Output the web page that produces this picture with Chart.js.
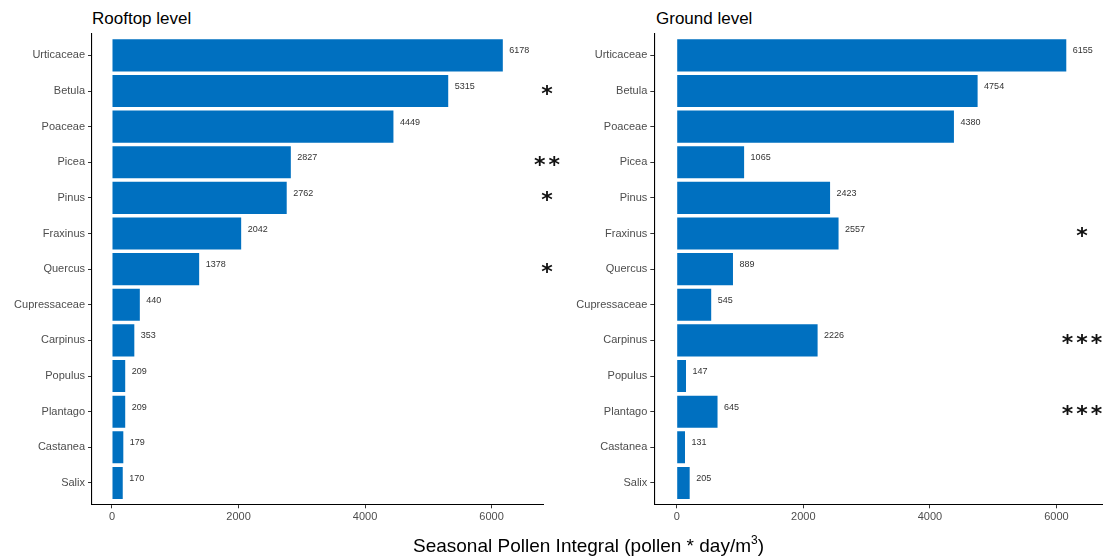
<!DOCTYPE html>
<html>
<head>
<meta charset="utf-8">
<title>Seasonal Pollen Integral</title>
<script src="https://cdn.jsdelivr.net/npm/chart.js@4.4.0/dist/chart.umd.min.js"></script>
<style>
    html, body { margin: 0; padding: 0; background: #fff; }
    body {
        position: relative;
        width: 1103px;
        height: 557px;
        overflow: hidden;
        font-family: "Liberation Sans", Arial, sans-serif;
    }
    canvas { position: absolute; top: 0; }
    #rooftopChart { left: 0; }
    #groundChart { left: 560px; }
    .panel-title {
        position: absolute;
        top: 10px;
        font-size: 17px;
        line-height: 17px;
        color: #000;
        white-space: nowrap;
    }
    #xTitle {
        position: absolute;
        left: 413px;
        top: 536px;
        font-size: 19px;
        line-height: 19px;
        color: #000;
        white-space: nowrap;
    }
    #xTitle sup { font-size: 12px; vertical-align: 8px; line-height: 0; }
</style>
</head>
<body>
<div class="panel-title" style="left: 92px;">Rooftop level</div>
<div class="panel-title" style="left: 656px;">Ground level</div>
<canvas id="rooftopChart" width="560" height="557"></canvas>
<canvas id="groundChart" width="543" height="557"></canvas>
<div id="xTitle">Seasonal Pollen Integral (pollen * day/m<sup>3</sup>)</div>

<script>
const taxa = ['Urticaceae', 'Betula', 'Poaceae', 'Picea', 'Pinus', 'Fraxinus', 'Quercus',
    'Cupressaceae', 'Carpinus', 'Populus', 'Plantago', 'Castanea', 'Salix'];

const rooftopValues = [6178, 5315, 4449, 2827, 2762, 2042, 1378, 440, 353, 209, 209, 179, 170];
const groundValues = [6155, 4754, 4380, 1065, 2423, 2557, 889, 545, 2226, 147, 645, 131, 205];

// significance marks per taxon
const rooftopSig = ['', '*', '', '**', '*', '', '*', '', '', '', '', '', ''];
const groundSig = ['', '', '', '', '', '*', '', '', '***', '', '***', '', ''];

const xTicks = [0, 2000, 4000, 6000];

const FONT = '"Liberation Sans", Arial, sans-serif';

// value next to each bar + asterisks in the right margin
const barLabels = {
    id: 'barLabels',
    afterDatasetsDraw(chart, args, opts) {
        const ctx = chart.ctx;
        const meta = chart.getDatasetMeta(0);
        const points = chart.data.datasets[0].data;

        ctx.save();
        ctx.font = '9px ' + FONT;
        ctx.fillStyle = '#333';
        ctx.textAlign = 'left';
        ctx.textBaseline = 'middle';
        meta.data.forEach(function (bar, i) {
            ctx.fillText(String(points[i].x), bar.x + 6.5, bar.y - 4.5);
        });

        ctx.font = 'bold 22px "DejaVu Sans", sans-serif';
        ctx.fillStyle = '#111';
        ctx.textAlign = 'center';
        ctx.textBaseline = 'alphabetic';
        const m = ctx.measureText('*');
        const shift = (m.actualBoundingBoxAscent - m.actualBoundingBoxDescent) / 2;
        opts.marks.forEach(function (s, i) {
            if (!s) return;
            const y = meta.data[i].y - 1.5 + shift;
            for (let k = 0; k < s.length; k++) {
                const x = opts.x + (k - (s.length - 1) / 2) * opts.gap;
                ctx.fillText('*', x, y);
            }
        });
        ctx.restore();
    }
};

function makePanel(canvasId, values, marks, p) {
    const ctx = document.getElementById(canvasId).getContext('2d');
    return new Chart(ctx, {
        type: 'bar',
        data: {
            datasets: [{
                data: values.map(function (v, i) { return { x: v, y: i }; }),
                backgroundColor: '#0070C0',
                borderWidth: 0,
                barPercentage: 0.9,
                categoryPercentage: 1
            }]
        },
        options: {
            indexAxis: 'y',
            responsive: false,
            maintainAspectRatio: false,
            animation: false,
            layout: { padding: { top: 34, right: p.padRight, left: 0, bottom: 0 } },
            plugins: {
                legend: { display: false },
                tooltip: { enabled: false },
                barLabels: { marks: marks, x: p.starX, gap: 14.5 }
            },
            scales: {
                y: {
                    type: 'linear',
                    reverse: true,
                    offset: false,
                    min: -0.6,
                    max: 12.6,
                    afterBuildTicks: function (s) {
                        s.ticks = taxa.map(function (_, i) { return { value: i }; });
                    },
                    afterFit: function (s) { s.width = p.yWidth; },
                    grid: { offset: false, drawOnChartArea: false, drawTicks: true, tickLength: 4, tickColor: '#333' },
                    border: { display: true, color: '#000', width: 1.1 },
                    ticks: {
                        autoSkip: false,
                        padding: 3,
                        color: '#4d4d4d',
                        font: { family: FONT, size: 11 },
                        callback: function (v) { return taxa[v]; }
                    }
                },
                x: {
                    type: 'linear',
                    min: p.xMin,
                    max: p.xMax,
                    afterBuildTicks: function (s) {
                        s.ticks = xTicks.map(function (v) { return { value: v }; });
                    },
                    afterFit: function (s) { s.height = 52.7; },
                    grid: { drawOnChartArea: false, drawTicks: true, tickLength: 4, tickColor: '#333' },
                    border: { display: true, color: '#000', width: 1.1 },
                    ticks: {
                        padding: 2,
                        maxRotation: 0,
                        color: '#4d4d4d',
                        font: { family: FONT, size: 11 },
                        callback: function (v) { return String(v); }
                    }
                }
            }
        },
        plugins: [barLabels]
    });
}

document.addEventListener('DOMContentLoaded', function () {
    makePanel('rooftopChart', rooftopValues, rooftopSig,
        { yWidth: 92, padRight: 16.7, xMin: -316, xMax: 6818, starX: 547 });
    makePanel('groundChart', groundValues, groundSig,
        { yWidth: 94.3, padRight: 0, xMin: -354, xMax: 6735, starX: 522 });
});
</script>
</body>
</html>
